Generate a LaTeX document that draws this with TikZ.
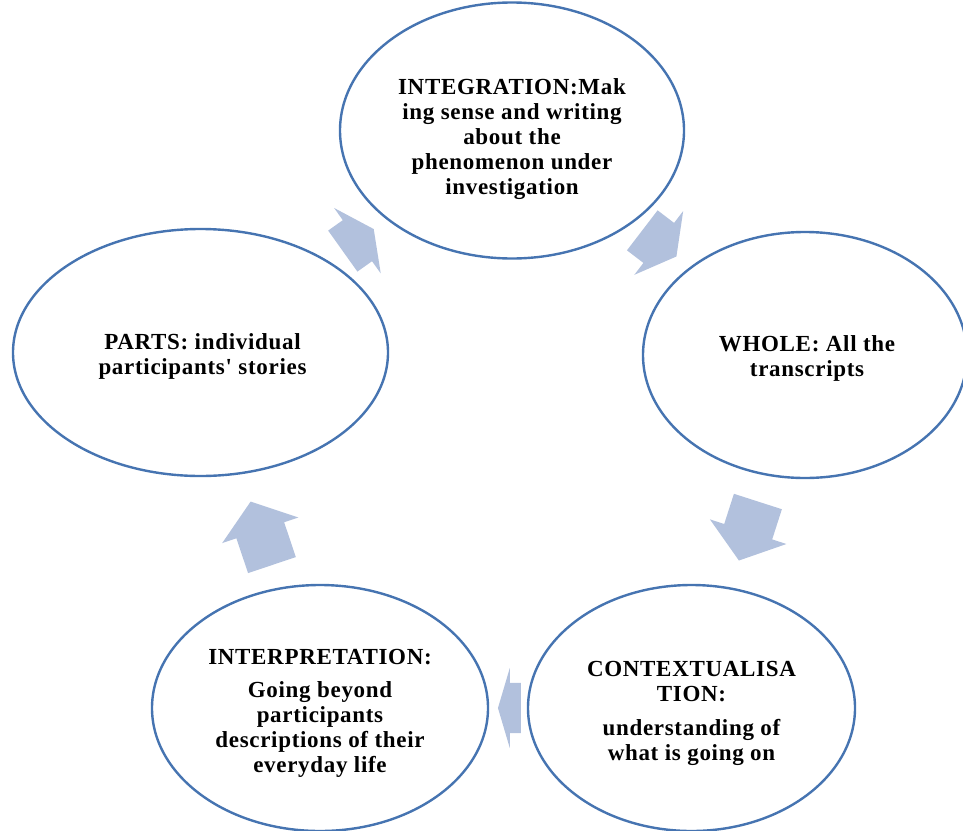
\documentclass[tikz,border=0pt]{standalone}
\usepackage{fontspec}
\newfontfamily\phasefont[LetterSpace=3.0]{Liberation Serif}
\definecolor{edgeblue}{RGB}{70, 116, 177}
\definecolor{arrowblue}{RGB}{178, 193, 221}
\usetikzlibrary{shapes.geometric}
\usetikzlibrary{shapes.arrows}
\tikzset{
  phase/.style={
    ellipse, draw=edgeblue, line width=2.4pt, fill=white, inner sep=0
  },
  phasetext/.style={
    inner sep=0, align=center,
    font=\phasefont\bfseries\fontsize{23}{25}\selectfont
  },
  cyclearrow/.style={single arrow, fill=arrowblue, draw=none,
    inner xsep=0, inner ysep=25pt,
    minimum width=80pt, single arrow head extend=15pt,
    sloped, allow upside down}
}

\begin{document}
\begin{tikzpicture}[x=1pt, y=-1pt]
  \useasboundingbox (0,0) rectangle (963,830);

  % the five phases
  \node[phase, minimum width=344pt, minimum height=256pt] (integ) at (512,130.5) {};
  \node[phase, minimum width=324pt, minimum height=246pt] (whole) at (805,355) {};
  \node[phase, minimum width=327pt, minimum height=246pt] (context) at (691.5,708) {};
  \node[phase, minimum width=336pt, minimum height=246pt] (interp) at (320,708) {};
  \node[phase, minimum width=375pt, minimum height=247pt] (parts) at (200.5,352.5) {};

  \node[phasetext] (integtext) at ([yshift=-9pt]integ.center)
    {INTEGRATION:Mak\\ing sense and writing\\about the\\phenomenon under\\investigation};
  \node[phasetext] (wholetext) at ([xshift=2pt, yshift=-3pt]whole.center)
    {WHOLE: All the\\transcripts};
  \node[phasetext] (contexttext) at ([yshift=-5pt]context.center)
    {CONTEXTUALISA\\TION:\\[9pt]understanding of\\what is going on};
  \node[phasetext] (interptext) at ([yshift=-5pt]interp.center)
    {INTERPRETATION:\\[8pt]Going beyond\\participants\\descriptions of their\\everyday life};
  \node[phasetext] (partstext) at ([xshift=2pt, yshift=-4pt]parts.center)
    {PARTS: individual\\participants' stories};

  % block arrows round the cycle
  \path (parts.center) -- node[cyclearrow, pos=.49, minimum height=38pt, single arrow tip angle=127] (a1) {} (integ.center);
  \path (integ.center) -- node[cyclearrow, pos=.484, minimum height=43pt, single arrow tip angle=122] (a2) {} (whole.center);
  \path (whole.center) -- node[cyclearrow, pos=.473, minimum height=62pt, single arrow tip angle=106] (a3) {} (context.center);
  \path (context.center) -- node[cyclearrow, pos=.48, minimum height=23pt, single arrow tip angle=147] (a4) {} (interp.center);
  \path (interp.center) -- node[cyclearrow, pos=.466, minimum height=67pt, single arrow tip angle=106] (a5) {} (parts.center);
\end{tikzpicture}
\end{document}
